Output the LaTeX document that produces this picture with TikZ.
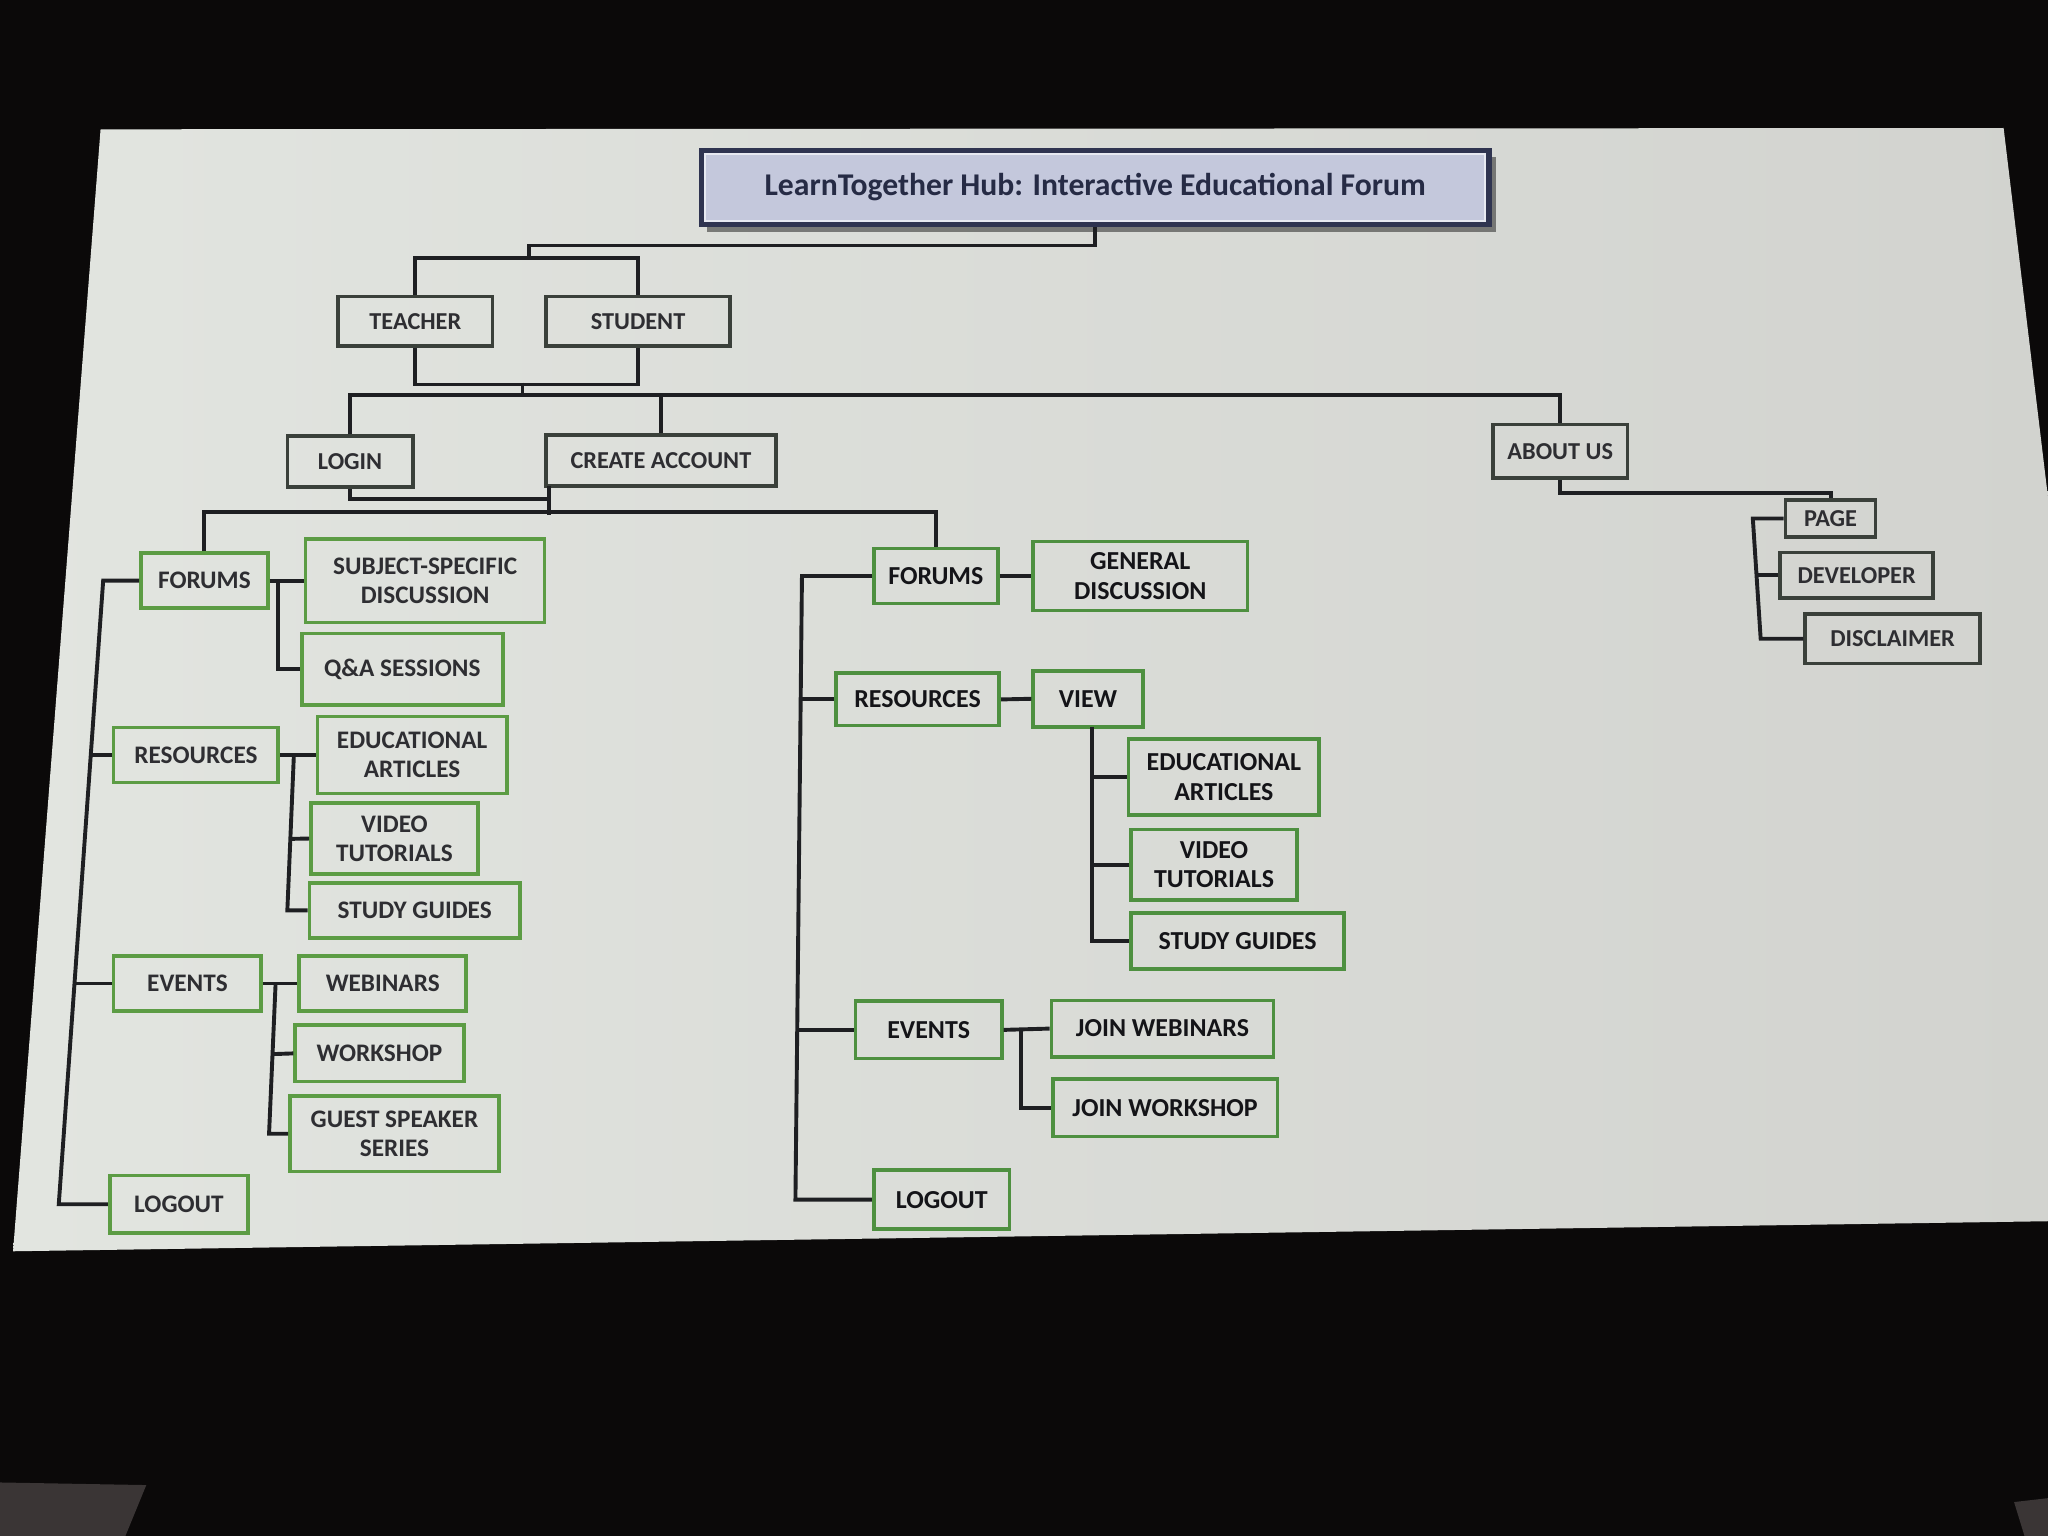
\documentclass[tikz,border=0pt]{standalone}
\usepackage{fontspec}
\setmainfont{Carlito}
\usetikzlibrary{calc}
\definecolor{bgblack}{HTML}{0B0909}
\definecolor{patch}{HTML}{3A3535}
\definecolor{scrL}{HTML}{E2E5E0}
\definecolor{scrR}{HTML}{D2D3CF}
\definecolor{lineC}{HTML}{1E1F22}
\definecolor{boxG}{HTML}{5C9C44}
\definecolor{boxG2}{HTML}{4E9040}
\definecolor{boxD}{HTML}{3A403A}
\definecolor{txtL}{HTML}{2E2E32}
\definecolor{txtR}{HTML}{141418}
\definecolor{titleF}{HTML}{C4C8DC}
\definecolor{titleD}{HTML}{2F3450}
\definecolor{titleT}{HTML}{262B45}
\tikzset{
  conn/.style={line width=1.7pt, draw=lineC},
  base/.style={draw, line width=1.6pt, inner sep=0pt, align=center, font=\bfseries\fontsize{11}{12.6}\selectfont},
  gbox/.style={base, draw=boxG, text=txtL},
  rbox/.style={base, draw=boxG2, text=txtR, font=\bfseries\fontsize{11.3}{13}\selectfont},
  dbox/.style={base, draw=boxD, text=txtL, font=\bfseries\fontsize{10.6}{12}\selectfont}
}
\begin{document}
\begin{tikzpicture}[x=0.02cm,y=-0.02cm]
\useasboundingbox (0,0) rectangle (1568,1176);
% photo surroundings
\fill[bgblack] (0,0) rectangle (1568,1176);
\fill[patch] (0,1135) -- (112,1137) -- (96,1176) -- (0,1176) -- cycle;
\fill[patch] (1542,1150) -- (1568,1147) -- (1568,1176) -- (1550,1176) -- cycle;
\shade[left color=scrL, right color=scrR] (77,99) -- (1534,98) -- (1568,381) -- (1568,935) -- (10,958) -- cycle;

% title
\fill[black, opacity=0.45] (541,120) rectangle (1145,178);
\node[draw=titleD, fill=titleF, line width=2.2pt, minimum width=603*0.02cm, minimum height=57*0.02cm, inner sep=0pt,
      text=titleT, font=\bfseries\fontsize{13.8}{16}\selectfont] (title) at (838.5,143.5)
      {LearnTogether Hub: Interactive Educational Forum};
\draw[white!60!titleF, line width=0.8pt] ($(title.south west)+(5,-5)$) rectangle ($(title.north east)+(-5,5)$);

% top level nodes
\node[dbox, minimum width=118*0.02cm, minimum height=38*0.02cm] (teacher) at (318,246) {TEACHER};
\node[dbox, minimum width=141*0.02cm, minimum height=38*0.02cm] (student) at (488.5,246) {STUDENT};
\node[dbox, minimum width=96*0.02cm, minimum height=39*0.02cm] (login) at (268,353.5) {LOGIN};
\node[dbox, minimum width=176*0.02cm, minimum height=39*0.02cm] (create) at (506,352.5) {CREATE ACCOUNT};
\node[dbox, minimum width=103*0.02cm, minimum height=41*0.02cm] (aboutus) at (1194.5,345.5) {ABOUT US};
\node[dbox, minimum width=69*0.02cm, minimum height=28*0.02cm] (page) at (1401.5,397) {PAGE};
\node[dbox, minimum width=117*0.02cm, minimum height=35*0.02cm] (dev) at (1421.5,440.5) {DEVELOPER};
\node[dbox, minimum width=134*0.02cm, minimum height=38*0.02cm] (disc) at (1449,489) {DISCLAIMER};

% left branch
\node[gbox, minimum width=97*0.02cm, minimum height=42*0.02cm] (lforums) at (156.5,444.5) {FORUMS};
\node[gbox, minimum width=183*0.02cm, minimum height=64*0.02cm] (subj) at (325.5,444.5) {SUBJECT-SPECIFIC\\DISCUSSION};
\node[gbox, minimum width=154*0.02cm, minimum height=55*0.02cm] (qa) at (308,512.5) {Q\&A SESSIONS};
\node[gbox, minimum width=126*0.02cm, minimum height=42*0.02cm] (lres) at (150,578) {RESOURCES};
\node[gbox, minimum width=145*0.02cm, minimum height=59*0.02cm] (ledu) at (315.5,578) {EDUCATIONAL\\ARTICLES};
\node[gbox, minimum width=128*0.02cm, minimum height=54*0.02cm] (lvid) at (302,642) {VIDEO\\TUTORIALS};
\node[gbox, minimum width=161*0.02cm, minimum height=42*0.02cm] (lstudy) at (317.5,697) {STUDY GUIDES};
\node[gbox, minimum width=113*0.02cm, minimum height=42*0.02cm] (levents) at (143.5,753) {EVENTS};
\node[gbox, minimum width=128*0.02cm, minimum height=42*0.02cm] (lweb) at (293,753) {WEBINARS};
\node[gbox, minimum width=129*0.02cm, minimum height=43*0.02cm] (lwork) at (290.5,806.5) {WORKSHOP};
\node[gbox, minimum width=160*0.02cm, minimum height=58*0.02cm] (lguest) at (302,868) {GUEST SPEAKER\\SERIES};
\node[gbox, minimum width=106*0.02cm, minimum height=44*0.02cm] (llogout) at (137,922) {LOGOUT};

% right branch
\node[rbox, minimum width=95*0.02cm, minimum height=42*0.02cm] (rforums) at (716.5,441) {FORUMS};
\node[rbox, minimum width=164*0.02cm, minimum height=53*0.02cm] (gen) at (873,441) {GENERAL\\DISCUSSION};
\node[rbox, minimum width=125*0.02cm, minimum height=40*0.02cm] (rres) at (702.5,535.5) {RESOURCES};
\node[rbox, minimum width=84*0.02cm, minimum height=43*0.02cm] (view) at (833,535) {VIEW};
\node[rbox, minimum width=146*0.02cm, minimum height=58*0.02cm] (redu) at (937,595) {EDUCATIONAL\\ARTICLES};
\node[rbox, minimum width=127*0.02cm, minimum height=54*0.02cm] (rvid) at (929.5,662) {VIDEO\\TUTORIALS};
\node[rbox, minimum width=163*0.02cm, minimum height=43*0.02cm] (rstudy) at (947.5,720.5) {STUDY GUIDES};
\node[rbox, minimum width=112*0.02cm, minimum height=44*0.02cm] (revents) at (711,788.5) {EVENTS};
\node[rbox, minimum width=170*0.02cm, minimum height=43*0.02cm] (jweb) at (890,787.5) {JOIN WEBINARS};
\node[rbox, minimum width=172*0.02cm, minimum height=44*0.02cm] (jwork) at (892,848) {JOIN WORKSHOP};
\node[rbox, minimum width=104*0.02cm, minimum height=45*0.02cm] (rlogout) at (721,918.5) {LOGOUT};

% junction coordinates
\coordinate (tsj) at (405,199);
\coordinate (tsb) at (400,293);
\coordinate (tsb2) at (400,304);
\coordinate (cab) at (420,372);
\coordinate (fj) at (420,394);
\coordinate (lt1) at (79,444.5);
\coordinate (lt2) at (69.5,578);
\coordinate (lt3) at (57,753);
\coordinate (lt4) at (45,922);
\coordinate (lfb) at (213,444.5);
\coordinate (lrb) at (225,578);
\coordinate (lrb2) at (220,697);
\coordinate (leb) at (211,753);
\coordinate (leb2) at (206,868);
\coordinate (rt1) at (614,441);
\coordinate (rt2) at (612.8,535.5);
\coordinate (rt3) at (610.5,788.5);
\coordinate (rt4) at (609,918.5);
\coordinate (vb) at (836,556.5);
\coordinate (reb) at (782,788);
\coordinate (ab1) at (1342,397);
\coordinate (ab2) at (1345,440.5);
\coordinate (ab3) at (1348,489);

% connectors: top
\draw[conn] (title.south) -- ++(0,14) -| (tsj);
\draw[conn] (teacher.north) -- ++(0,-28) -| (student.north);
\draw[conn] (teacher.south) -- ++(0,28) -| (student.south);
\draw[conn] (tsb) -- (tsb2);
\draw[conn] (login.north) -- ++(0,-30) -| (aboutus.north);
\draw[conn] (create.north) -- ++(0,-30);
\draw[conn] (login.south) -- ++(0,7.5) -| (cab);
\draw[conn] (cab) -- (fj);
\draw[conn] (lforums.north) -- ++(0,-30) -| (rforums.north);

% left branch connectors
\draw[conn] (lforums.west) -- (lt1) -- (lt4) -- (llogout.west);
\draw[conn] (lres.west) -- (lt2);
\draw[conn] (levents.west) -- (lt3);
\draw[conn] (lforums.east) -- (subj.west);
\draw[conn] (lfb) |- (qa.west);
\draw[conn] (lres.east) -- (ledu.west);
\draw[conn] (lrb) -- (lrb2) -- (lstudy.west);
\draw[conn] (lvid.west) -- ($(lrb)!0.54!(lrb2)$);
\draw[conn] (levents.east) -- (lweb.west);
\draw[conn] (leb) -- (leb2) -- (lguest.west);
\draw[conn] (lwork.west) -- ($(leb)!0.47!(leb2)$);

% right branch connectors
\draw[conn] (rforums.west) -- (rt1) -- (rt4) -- (rlogout.west);
\draw[conn] (rres.west) -- (rt2);
\draw[conn] (revents.west) -- (rt3);
\draw[conn] (rforums.east) -- (gen.west);
\draw[conn] (rres.east) -- (view.west);
\draw[conn] (vb) |- (rstudy.west);
\draw[conn] (redu.west) -- (redu.west -| vb);
\draw[conn] (rvid.west) -- (rvid.west -| vb);
\draw[conn] (revents.east) -- (jweb.west);
\draw[conn] (reb) |- (jwork.west);

% about us connectors
\draw[conn] (aboutus.south) -- ++(0,10) -| (page.north);
\draw[conn] (page.west) -- (ab1) -- (ab3) -- (disc.west);
\draw[conn] (dev.west) -- (ab2);
\end{tikzpicture}
\end{document}
